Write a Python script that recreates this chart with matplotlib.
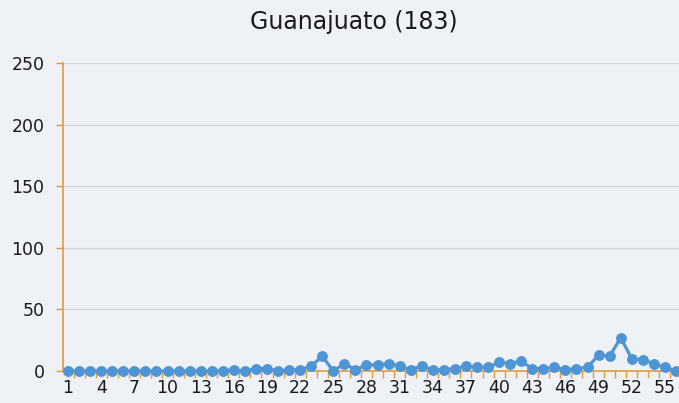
import matplotlib
matplotlib.use("Agg")
import matplotlib.pyplot as plt
from matplotlib.ticker import MultipleLocator, FixedLocator

plt.rcParams['font.family'] = ['DejaVu Sans']

title = "Guanajuato (183)"
weeks = list(range(1, 57))
values = [0, 0, 0, 0, 0, 0, 0, 0, 0, 0, 0, 0, 0, 0, 0, 1, 0, 2, 2, 0,
          1, 1, 4, 12, 0, 6, 1, 5, 5, 6, 4, 1, 4, 1, 1, 2, 4, 3, 3, 7,
          6, 8, 2, 2, 3, 1, 2, 3, 13, 12, 27, 10, 9, 6, 3, 0]
xtick_labels = list(range(1, 57, 3))

bg = "#EEF1F6"
orange = "#E59A3B"
blue = "#4E95D6"

fig = plt.figure(figsize=(6.79, 4.03), dpi=100, facecolor=bg)
W, H = 679, 403
left, right, top, bottom = 62.5, 681.5, 63, 371
ax = fig.add_axes([left / W, 1 - bottom / H, (right - left) / W, (bottom - top) / H])
ax.set_facecolor(bg)

ax.plot(weeks, values, color=blue, linewidth=2.3, marker='o', markersize=6.8,
        clip_on=False, zorder=3)

ax.set_xlim(0.5, 56.5)
ax.set_ylim(0, 250)
ax.yaxis.set_major_locator(MultipleLocator(50))
ax.set_xticks(xtick_labels)
ax.set_xticklabels([str(v) for v in xtick_labels])
ax.xaxis.set_minor_locator(FixedLocator([w + 0.5 for w in weeks[:-1]]))
ax.tick_params(axis='x', which='major', length=0, pad=6, labelsize=12.5, labelcolor='#1a1a1a')
ax.tick_params(axis='x', which='minor', length=5, width=1, color=orange, direction='out')
ax.tick_params(axis='y', which='major', length=5, width=1, color=orange, pad=8,
               labelsize=12.5, labelcolor='#1a1a1a')

ax.grid(axis='y', color='#D4D6DA', linewidth=1)
ax.set_axisbelow(True)
for s in ['top', 'right']:
    ax.spines[s].set_visible(False)
for s in ['left', 'bottom']:
    ax.spines[s].set_color(orange)
    ax.spines[s].set_linewidth(1.2)

fig.text(354 / W, 1 - 22 / H, title, ha='center', va='center', fontsize=17, color='#1a1a1a')

fig.savefig("out.png", dpi=100, facecolor=bg)
